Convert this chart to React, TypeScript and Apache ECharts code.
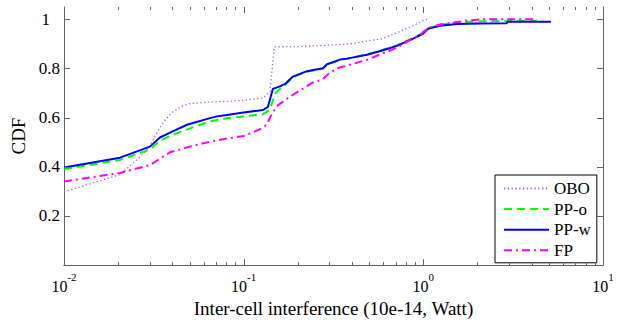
import React, { useEffect, useRef } from 'react';
import * as echarts from 'echarts';

const seriesNames = ['OBO', 'PP-o', 'PP-w', 'FP'];

const oboX = [0.01, 0.0205, 0.0265, 0.0301, 0.033, 0.036, 0.04, 0.045, 0.05, 0.06, 0.08, 0.1, 0.128, 0.14, 0.148, 0.2, 0.3, 0.41, 0.49, 0.59, 0.71, 0.87, 0.99, 1.02, 1.05];
const oboY = [0.298, 0.368, 0.44, 0.485, 0.54, 0.585, 0.622, 0.645, 0.657, 0.662, 0.666, 0.67, 0.68, 0.705, 0.888, 0.889, 0.895, 0.902, 0.912, 0.921, 0.945, 0.972, 0.994, 0.998, 1.0];

const ppoX = [0.01, 0.0205, 0.0301, 0.0342, 0.04, 0.0484, 0.0649, 0.08, 0.1, 0.128, 0.1395, 0.15, 0.16, 0.17, 0.188, 0.225, 0.276, 0.291, 0.344, 0.376, 0.486, 0.596, 0.713, 0.865, 0.995, 1.06, 1.24, 1.54, 2.07, 4.3];
const ppoY = [0.39, 0.428, 0.47, 0.506, 0.529, 0.552, 0.585, 0.597, 0.605, 0.614, 0.631, 0.7, 0.718, 0.733, 0.765, 0.787, 0.799, 0.815, 0.835, 0.84, 0.857, 0.876, 0.894, 0.922, 0.945, 0.963, 0.978, 0.987, 0.992, 0.994];

const ppwX = [0.01, 0.0205, 0.0301, 0.0342, 0.04, 0.0484, 0.0649, 0.071, 0.0807, 0.1, 0.128, 0.1365, 0.1455, 0.159, 0.17, 0.188, 0.225, 0.276, 0.291, 0.344, 0.376, 0.486, 0.596, 0.713, 0.865, 0.995, 1.06, 1.24, 1.54, 2.05, 2.9, 2.95, 5.13];
const ppwY = [0.397, 0.437, 0.482, 0.519, 0.543, 0.571, 0.598, 0.605, 0.611, 0.621, 0.631, 0.644, 0.717, 0.727, 0.737, 0.767, 0.789, 0.801, 0.817, 0.836, 0.84, 0.856, 0.874, 0.892, 0.919, 0.941, 0.961, 0.974, 0.981, 0.983, 0.984, 0.99, 0.99];

const fpX = [0.01, 0.0205, 0.0301, 0.0389, 0.0484, 0.0649, 0.0807, 0.1, 0.123, 0.135, 0.143, 0.155, 0.174, 0.205, 0.243, 0.276, 0.294, 0.33, 0.486, 0.596, 0.713, 0.87, 0.958, 1.02, 1.09, 1.24, 1.72, 2.07, 4.27];
const fpY = [0.34, 0.375, 0.407, 0.459, 0.479, 0.502, 0.515, 0.525, 0.552, 0.572, 0.615, 0.65, 0.677, 0.71, 0.743, 0.756, 0.776, 0.8, 0.835, 0.862, 0.885, 0.921, 0.935, 0.954, 0.967, 0.979, 0.994, 1.0, 1.0];

const yTickLabels = [0.2, 0.4, 0.6, 0.8, 1];
const xMajorTicks = [0.01, 0.1, 1, 10];
const xMinorTicks = [0.02, 0.03, 0.04, 0.05, 0.06, 0.07, 0.08, 0.09, 0.2, 0.3, 0.4, 0.5, 0.6, 0.7, 0.8, 0.9, 2, 3, 4, 5, 6, 7, 8, 9];

const X_MIN = 0.01;
const X_MAX = 10;
const Y_MIN = 0;
const Y_MAX = 1.05;

const FONT = 'Liberation Serif';
const AXIS_COLOR = '#666';

const zip = (xs: number[], ys: number[]) => xs.map((x, i) => [x, ys[i]]);

const tickLine = (x1: number, y1: number, x2: number, y2: number) => ({
  type: 'line',
  shape: { x1, y1, x2, y2 },
  style: { stroke: AXIS_COLOR, lineWidth: 1 },
});

const xTickSeries = (ticks: number[], len: number) => ({
  type: 'custom',
  name: '_xt' + len,
  coordinateSystem: 'cartesian2d',
  silent: true,
  z: 5,
  data: ticks.map((v) => [v, Y_MIN]),
  renderItem: (_p: any, api: any) => {
    const v = api.value(0);
    const b = api.coord([v, Y_MIN]);
    const t = api.coord([v, Y_MAX]);
    const x = Math.round(b[0]) + 0.5;
    return {
      type: 'group',
      children: [tickLine(x, b[1], x, b[1] - len), tickLine(x, t[1], x, t[1] + len)],
    };
  },
});

const yTickSeries = (ticks: number[], len: number) => ({
  type: 'custom',
  name: '_yt',
  coordinateSystem: 'cartesian2d',
  silent: true,
  z: 5,
  data: ticks.map((v) => [X_MIN, v]),
  renderItem: (_p: any, api: any) => {
    const v = api.value(1);
    const l = api.coord([X_MIN, v]);
    const r = api.coord([X_MAX, v]);
    const y = Math.round(l[1]) + 0.5;
    return {
      type: 'group',
      children: [tickLine(l[0], y, l[0] + len, y), tickLine(r[0], y, r[0] - len, y)],
    };
  },
});

export default function App() {
  const ref = useRef<HTMLDivElement>(null);
  useEffect(() => {
    if (!ref.current) return;
    const chart = echarts.init(ref.current, undefined, { renderer: 'svg' });
    const xLabelFormatter = (v: number) => {
      const e = Math.round(Math.log10(v));
      return `{b|10}{s|${e}}`;
    };
    const axisLine = { show: true, lineStyle: { color: AXIS_COLOR, width: 1 } };
    const option: any = {
      animation: false,
      backgroundColor: '#fff',
      grid: { left: 64, right: 23, top: 7, bottom: 52, containLabel: false },
      legend: {
        data: seriesNames,
        orient: 'vertical',
        left: 495,
        top: 175,
        itemWidth: 45,
        itemHeight: 14,
        itemGap: 3.6,
        padding: [5, 6, 4, 8],
        borderColor: '#000',
        borderWidth: 1,
        backgroundColor: '#fff',
        itemStyle: { opacity: 0 },
        textStyle: { fontFamily: FONT, fontSize: 17, color: '#000', lineHeight: 17 },
      },
      xAxis: [
        {
          type: 'log',
          logBase: 10,
          min: X_MIN,
          max: X_MAX,
          position: 'bottom',
          name: 'Inter-cell interference (10e-14, Watt)',
          nameLocation: 'middle',
          nameGap: 30,
          nameTextStyle: { fontFamily: FONT, fontSize: 19, color: '#000' },
          axisLine,
          splitLine: { show: false },
          axisTick: { show: false },
          minorTick: { show: false },
          axisLabel: {
            show: true,
            margin: 6,
            formatter: xLabelFormatter,
            rich: {
              b: { fontFamily: FONT, fontSize: 16, color: '#000', lineHeight: 30 },
              s: { fontFamily: FONT, fontSize: 11, color: '#000', lineHeight: 11, verticalAlign: 'top' },
            },
          },
        },
        {
          type: 'log',
          logBase: 10,
          min: X_MIN,
          max: X_MAX,
          position: 'top',
          axisLine,
          splitLine: { show: false },
          axisTick: { show: false },
          axisLabel: { show: false },
        },
      ],
      yAxis: [
        {
          type: 'value',
          min: Y_MIN,
          max: Y_MAX,
          interval: 0.2,
          position: 'left',
          name: 'CDF',
          nameLocation: 'middle',
          nameGap: 34,
          nameTextStyle: { fontFamily: FONT, fontSize: 19, color: '#000' },
          axisLine,
          splitLine: { show: false },
          axisTick: { show: false },
          axisLabel: {
            show: true,
            margin: 4,
            fontFamily: FONT,
            fontSize: 17,
            color: '#000',
            formatter: (v: number) => {
              const hit = yTickLabels.find((t) => Math.abs(t - v) < 1e-6);
              if (hit === undefined) return '';
              if (hit === 1) return '{o|1}';
              return hit.toFixed(1);
            },
            rich: {
              o: { fontFamily: FONT, fontSize: 17, color: '#000', padding: [0, 10, 0, 0] },
            },
          },
        },
        {
          type: 'value',
          min: Y_MIN,
          max: Y_MAX,
          interval: 0.2,
          position: 'right',
          axisLine,
          splitLine: { show: false },
          axisTick: { show: false },
          axisLabel: { show: false },
        },
      ],
      series: [
        {
          name: 'OBO',
          type: 'line',
          symbol: 'none',
          data: zip(oboX, oboY),
          lineStyle: { color: '#9f5fff', width: 1.3, type: [1.3, 2.5] },
          itemStyle: { color: '#9f5fff' },
        },
        {
          name: 'PP-o',
          type: 'line',
          symbol: 'none',
          data: zip(ppoX, ppoY),
          lineStyle: { color: '#00ff00', width: 2, type: [8, 5] },
          itemStyle: { color: '#00ff00' },
        },
        {
          name: 'PP-w',
          type: 'line',
          symbol: 'none',
          data: zip(ppwX, ppwY),
          lineStyle: { color: '#0000ff', width: 2, type: 'solid' },
          itemStyle: { color: '#0000ff' },
        },
        {
          name: 'FP',
          type: 'line',
          symbol: 'none',
          data: zip(fpX, fpY),
          lineStyle: { color: '#ff00ff', width: 2, type: [8, 4, 2, 4] },
          itemStyle: { color: '#ff00ff' },
        },
        xTickSeries(xMajorTicks, 6),
        xTickSeries(xMinorTicks, 3),
        yTickSeries(yTickLabels, 6),
      ],
    };
    chart.setOption(option);
    return () => chart.dispose();
  }, []);
  return (
    <div
      ref={ref}
      style={{ position: 'fixed', left: 0, top: 0, width: 626, height: 323, background: '#fff' }}
    />
  );
}
